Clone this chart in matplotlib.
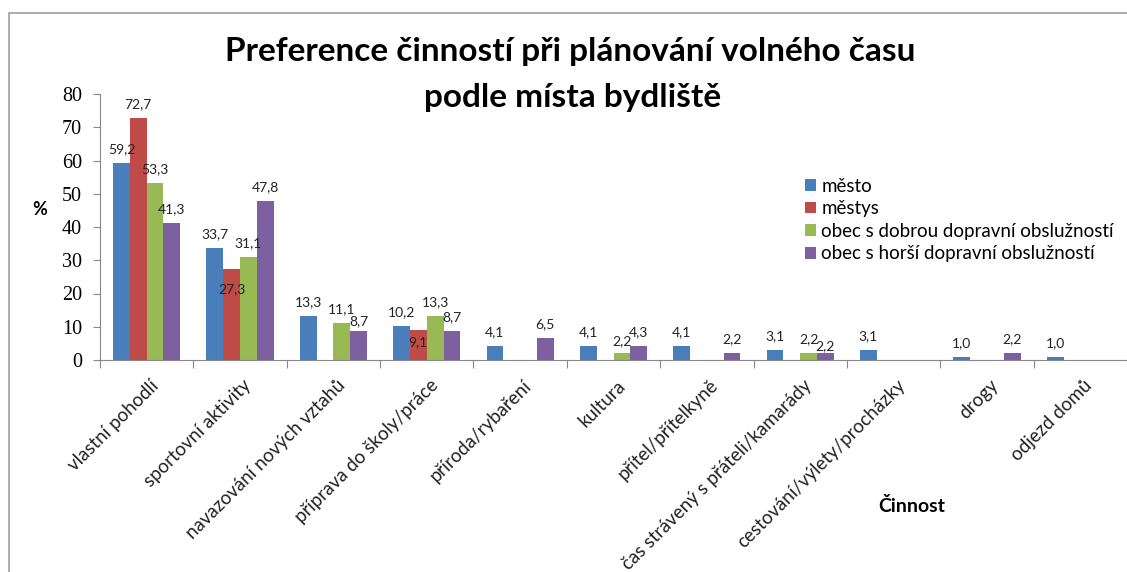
import matplotlib
matplotlib.use("Agg")
import matplotlib.pyplot as plt
import numpy as np
from matplotlib.patches import Rectangle

plt.rcParams['font.family'] = ['Lato', 'DejaVu Sans']

# Data
categories = ['vlastní pohodlí', 'sportovní aktivity', 'navazování nových vztahů',
              'příprava do školy/práce', 'příroda/rybaření', 'kultura',
              'přítel/přítelkyně', 'čas strávený s přáteli/kamarády',
              'cestování/výlety/procházky', 'drogy', 'odjezd domů']
series_names = ['město', 'městys', 'obec s dobrou dopravní obslužností',
                'obec s horší dopravní obslužností']
mesto = [59.2, 33.7, 13.3, 10.2, 4.1, 4.1, 4.1, 3.1, 3.1, 1.0, 1.0]
mestys = [72.7, 27.3, 0, 9.1, 0, 0, 0, 0, 0, 0, 0]
obec_dobra = [53.3, 31.1, 11.1, 13.3, 0, 2.2, 0, 2.2, 0, 0, 0]
obec_horsi = [41.3, 47.8, 8.7, 8.7, 6.5, 4.3, 2.2, 2.2, 0, 2.2, 0]
series = [mesto, mestys, obec_dobra, obec_horsi]
colors = ['#4a7ebb', '#be4b48', '#98b954', '#7d60a0']

# label offsets (pt) that differ from the default, as in the original
label_offsets = {(1, 1): -14, (1, 3): -9, (3, 2): 7, (2, 5): 8, (3, 7): 5}

fig = plt.figure(figsize=(11.27, 5.72), dpi=100)
ax = fig.add_axes([100 / 1127, 1 - 360 / 572, 1 - 100 / 1127, (360 - 94) / 572])

# Chart border
fig.patches.append(Rectangle((9 / 1127, -0.1), 1.2, 1.1 - 13 / 572, transform=fig.transFigure,
                             fill=False, edgecolor='#a0a0a0', linewidth=1.2))

x = np.arange(len(categories))
w = 0.18
for i, (vals, name, c) in enumerate(zip(series, series_names, colors)):
    pos = x - 1.5 * w + i * w
    ax.bar(pos, vals, width=w, color=c, label=name, linewidth=0)
    for j, (p, v) in enumerate(zip(pos, vals)):
        if v == 0:
            continue
        off = label_offsets.get((i, j), 10)
        ax.annotate(f'{v:.1f}'.replace('.', ','), (p, v), xytext=(0, off),
                    textcoords='offset points', ha='center', va='center',
                    fontsize=10, color='#222222')

ax.set_xlim(-0.5, len(categories) - 0.5)
ax.set_ylim(0, 80)
ax.set_yticks(range(0, 81, 10))
for t in ax.get_yticklabels():
    t.set_family('Liberation Serif')
ax.tick_params(axis='y', labelsize=14.5, direction='out', length=5, color='#888888', pad=8)

ax.set_xticks(np.arange(len(categories) + 1) - 0.5, minor=False)
ax.set_xticklabels([])
ax.tick_params(axis='x', direction='out', length=6, color='#888888')
for j, cat in enumerate(categories):
    ax.annotate(cat, (j, 0), xytext=(2, -12), textcoords='offset points',
                rotation=45, ha='right', va='top', rotation_mode='anchor',
                fontsize=13.5, color='#222222', annotation_clip=False)

for s in ['top', 'right']:
    ax.spines[s].set_visible(False)
for s in ['left', 'bottom']:
    ax.spines[s].set_color('#888888')

fig.text(570 / 1127, 1 - 52 / 572, 'Preference činností při plánování volného času',
         ha='center', va='center', fontsize=24, fontweight='bold')
fig.text(573 / 1127, 1 - 97 / 572, 'podle místa bydliště',
         ha='center', va='center', fontsize=24, fontweight='bold')
fig.text(40 / 1127, 1 - 210 / 572, '%', ha='center', va='center', fontsize=13, fontweight='bold')
fig.text(912 / 1127, 1 - 506 / 572, 'Činnost', ha='center', va='center', fontsize=14, fontweight='bold')

ax.legend(loc='upper left', bbox_to_anchor=(797 / 1127, 1 - 170 / 572), bbox_transform=fig.transFigure,
          frameon=False, fontsize=13.5, handlelength=0.6, handleheight=0.6, handletextpad=0.3,
          labelspacing=0.3, borderaxespad=0)

fig.savefig('out.png', dpi=100)
